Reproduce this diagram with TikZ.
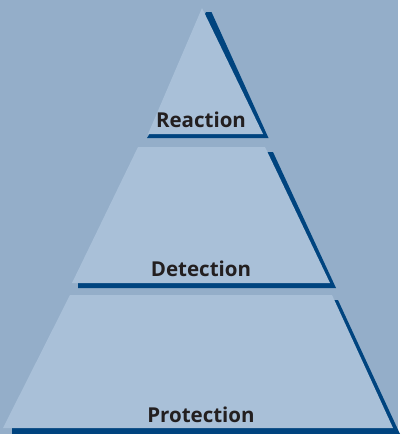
\documentclass[tikz,border=0pt]{standalone}
\usepackage{fontspec}
\setmainfont{Open Sans}
\definecolor{bgblue}{HTML}{94AEC9}
\definecolor{tierfill}{HTML}{A9C0D8}
\definecolor{tiershadow}{HTML}{00447F}
\definecolor{tiertext}{HTML}{231F20}

\begin{document}
\begin{tikzpicture}[x=1pt,y=-1pt,
    tier/.style={fill=tierfill},
    tiershade/.style={fill=tiershadow},
    tiername/.style={anchor=base,inner sep=0pt,text=tiertext,
        font=\bfseries\fontsize{20.5}{20.5}\selectfont}]
    \fill[bgblue] (0,0) rectangle (398,434);
    % top
    \fill[tiershade] (206,12) -- (211.5,12) -- (268.5,138) -- (147,138) -- (149.5,134) -- cycle;
    \fill[tier] (202,8) -- (263,134) -- (148,134) -- cycle;
    % middle
    \fill[tiershade] (268,152) -- (273,152) -- (336,288) -- (78,288) -- (78,282) -- cycle;
    \fill[tier] (138,147) -- (265,147) -- (330,283) -- (72,283) -- cycle;
    % bottom
    \fill[tiershade] (333,300) -- (338,300) -- (400,434) -- (12,434) -- (12,427) -- cycle;
    \fill[tier] (70,295) -- (332,295) -- (393,428) -- (3,428) -- cycle;
    \node[tiername] (reaction) at (201,127) {Reaction};
    \node[tiername] (detection) at (201,276) {Detection};
    \node[tiername] (protection) at (201,422) {Protection};
\end{tikzpicture}
\end{document}
